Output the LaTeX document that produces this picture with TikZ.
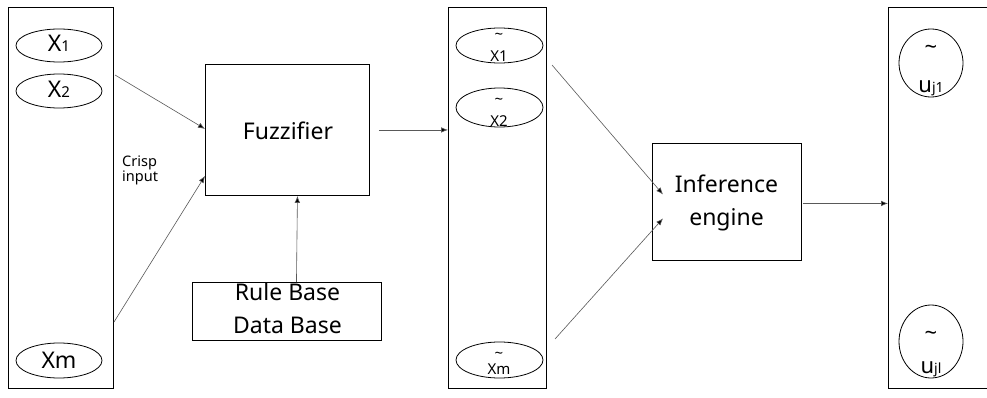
\documentclass[tikz,border=0pt]{standalone}
\usepackage{fontspec}
\setmainfont{Noto Sans}
\usetikzlibrary{arrows.meta,shapes.geometric,calc}
\begin{document}
\begin{tikzpicture}[x=1pt,y=-1pt,
  box/.style={draw=black, line width=0.9pt, inner sep=0pt, anchor=north west},
  oval/.style={draw=black, ellipse, line width=0.8pt, inner sep=0pt},
  conn/.style={draw=black!65, line width=0.6pt, -{Latex[length=7pt,width=5.5pt,fill=black]}},
  big/.style={inner sep=0pt, font=\fontsize{23}{33}\selectfont, align=center},
  mid/.style={inner sep=0pt, font=\fontsize{15}{18}\selectfont},
  small/.style={inner sep=0pt, font=\fontsize{14.5}{18}\selectfont, align=left}
]
\clip (0,0) rectangle (987,398);
\fill[white] (0,0) rectangle (987,398);

% columns
\node[box, minimum width=105pt, minimum height=381pt] (L) at (8,7) {};
\node[box, minimum width=98pt, minimum height=381pt] (M) at (448,7) {};
\node[box, minimum width=120pt, minimum height=381pt] (R) at (888,7) {};

% left ovals
\node[oval, minimum width=86pt, minimum height=33pt] (x1) at (59,45.5) {};
\node[oval, minimum width=86pt, minimum height=34pt] (x2) at (59,91) {};
\node[oval, minimum width=86pt, minimum height=35pt] (xm) at (59,360.5) {};
\node[big] (tx1) at (59,43.5) {X{\fontsize{15}{15}\selectfont 1}};
\node[big] (tx2) at (59,89) {X{\fontsize{15}{15}\selectfont 2}};
\node[big] (txm) at (59,360.5) {Xm};

% crisp input
\node[small, anchor=north west] (crisp) at (122,156) {Crisp\\[-3pt]input};

% fuzzifier
\node[box, minimum width=164pt, minimum height=131pt] (F) at (205,64) {};
\node[big] (tF) at (288,131) {Fuzzifier};

% rule base
\node[box, minimum width=189pt, minimum height=58pt] (RB) at (192,282) {};
\node[big, anchor=north] (tRB) at (287.5,283) {Rule Base\\Data Base};

% middle ovals
\node[oval, minimum width=87pt, minimum height=35pt] (m1) at (499.5,45.5) {};
\node[oval, minimum width=87pt, minimum height=39pt] (m2) at (499.5,107.5) {};
\node[oval, minimum width=87pt, minimum height=36pt] (mm) at (499.5,360) {};
\node[mid, anchor=base] (tm1a) at (499,40) {\textasciitilde};
\node[mid, anchor=base] (tm1b) at (499,62) {X1};
\node[mid, anchor=base] (tm2a) at (499,105) {\textasciitilde};
\node[mid, anchor=base] (tm2b) at (499,127) {X2};
\node[mid, anchor=base] (tmma) at (499,358.5) {\textasciitilde};
\node[mid, anchor=base] (tmmb) at (499,374) {Xm};

% inference engine
\node[box, minimum width=149pt, minimum height=117pt] (I) at (652,143) {};
\node[big] (tI) at (726.5,203) {Inference\\engine};

% right ovals
\node[oval, minimum width=64pt, minimum height=68pt] (u1) at (931,63) {};
\node[oval, minimum width=64pt, minimum height=73pt] (ul) at (931,341.5) {};
\node[inner sep=0pt, font=\fontsize{22}{22}\selectfont, anchor=base] (tu1a) at (931,55) {\textasciitilde};
\node[inner sep=0pt, font=\fontsize{22}{22}\selectfont, anchor=base] (tu1b) at (931,93) {u{\fontsize{14}{14}\selectfont j1}};
\node[inner sep=0pt, font=\fontsize{22}{22}\selectfont, anchor=base] (tula) at (931,340) {\textasciitilde};
\node[inner sep=0pt, font=\fontsize{22}{22}\selectfont, anchor=base] (tulb) at (931,373) {u{\fontsize{14}{14}\selectfont jl}};

% connectors
\coordinate (s1) at (115,75);
\coordinate (s2) at (114,322);
\draw[conn] (s1) -- ($(F.south west)+(0,-67)$);
\draw[conn] (s2) -- ($(F.south west)+(0,-20)$);
\draw[conn] ($(F.east)+(9,0)$) -- (M.west |- F.east);
\draw[conn] ($(RB.north)+(9.5,0)$) -- ($(F.south)+(10,0)$);
\coordinate (s3) at (552,65);
\coordinate (s4) at (555,339);
\draw[conn] (s3) -- ($(I.west)+(11,-7.5)$);
\draw[conn] (s4) -- ($(I.west)+(11,16.5)$);
\draw[conn] ($(I.east)+(1,1.5)$) -- ($(R.west |- I.east)+(0,1.5)$);
\end{tikzpicture}
\end{document}
